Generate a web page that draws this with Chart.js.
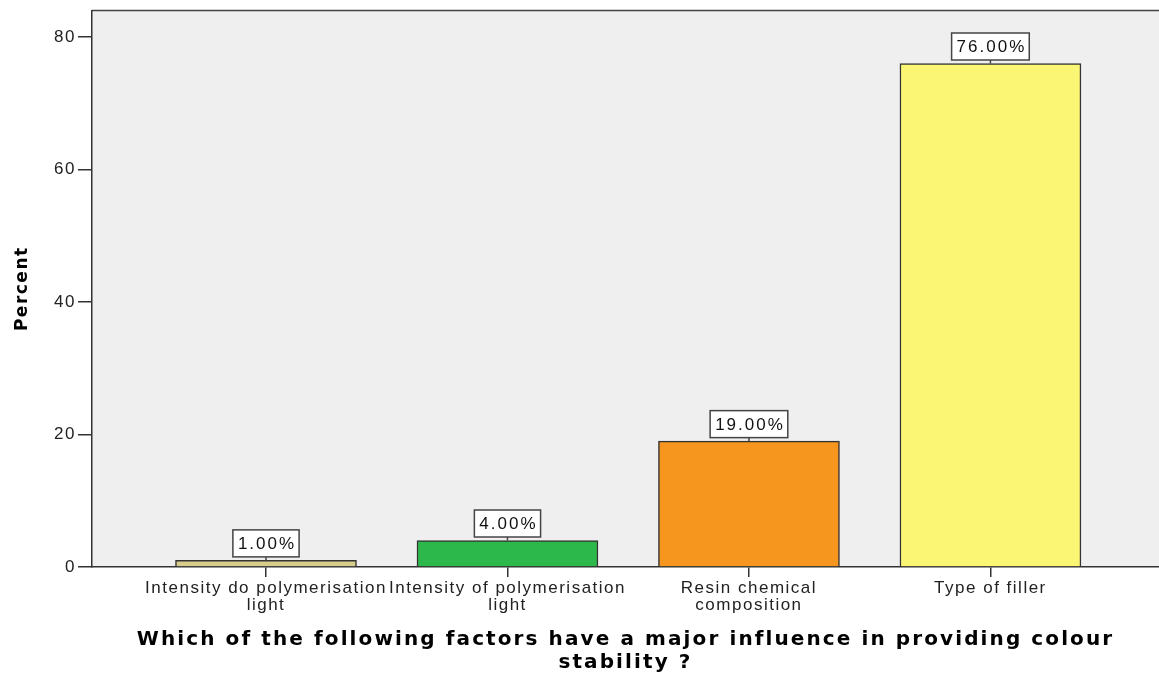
<!DOCTYPE html>
<html>
<head>
<meta charset="utf-8">
<script src="https://cdn.jsdelivr.net/npm/chart.js@4.4.1/dist/chart.umd.min.js"></script>
<style>
  html, body { margin: 0; padding: 0; background: #fff; overflow: hidden; }
  #wrap { width: 1159px; height: 677px; position: relative; }
</style>
</head>
<body>
<div id="wrap"><canvas id="c"></canvas></div>
<script>
// Survey answers: share of respondents per factor
const categories = [
  'Intensity do polymerisation light',
  'Intensity of polymerisation light',
  'Resin chemical composition',
  'Type of filler'
];
const categoryLines = [
  ['Intensity do polymerisation', 'light'],
  ['Intensity of polymerisation', 'light'],
  ['Resin chemical', 'composition'],
  ['Type of filler']
];
const percents = [1, 4, 19, 76];
const barColors = ['#d8cc8c', '#2db84b', '#f7961f', '#fbf774'];
const yTicks = [0, 20, 40, 60, 80];
const yTitle = 'Percent';
const xTitle = ['Which of the following factors have a major influence in providing colour', 'stability ?'];

const SANS = '"Liberation Sans", Arial, sans-serif';
const BOLD = '"DejaVu Sans", Verdana, sans-serif';

// Base letter spacing for tick text
const spacing = {
  id: 'spacing',
  beforeLayout(chart) { chart.ctx.letterSpacing = '1.5px'; },
  beforeDraw(chart) { chart.ctx.letterSpacing = '1.5px'; }
};

// Axis titles get their own letter spacing
function spacedTitle(sp) {
  return s => {
    if (s._spacedTitle) return;
    s._spacedTitle = true;
    const orig = s.drawTitle;
    s.drawTitle = function () {
      const c = this.ctx;
      const prev = c.letterSpacing;
      c.letterSpacing = sp;
      orig.call(this);
      c.letterSpacing = prev;
    };
  };
}

// Grey plot panel with a top frame line
const panel = {
  id: 'panel',
  beforeDraw(chart) {
    const { ctx, chartArea: a } = chart;
    ctx.save();
    ctx.fillStyle = '#efefef';
    ctx.fillRect(a.left, a.top, a.right - a.left, a.bottom - a.top);
    ctx.strokeStyle = '#444';
    ctx.lineWidth = 1.5;
    ctx.beginPath();
    ctx.moveTo(a.left, a.top);
    ctx.lineTo(a.right, a.top);
    ctx.stroke();
    ctx.restore();
  }
};

// Boxed percentage labels above each bar
const valueBoxes = {
  id: 'valueBoxes',
  afterDatasetsDraw(chart) {
    const ctx = chart.ctx;
    const meta = chart.getDatasetMeta(0);
    ctx.save();
    ctx.font = '17px ' + SANS;
    ctx.letterSpacing = '2px';
    meta.data.forEach((bar, i) => {
      const txt = percents[i].toFixed(2) + '%';
      const w = ctx.measureText(txt).width + 8;
      const h = 27;
      const bottom = bar.y - 3.5;
      const top = bottom - h;
      ctx.fillStyle = '#fff';
      ctx.fillRect(bar.x - w / 2, top, w, h);
      ctx.strokeStyle = '#444';
      ctx.lineWidth = 1.5;
      ctx.strokeRect(bar.x - w / 2, top, w, h);
      ctx.beginPath();
      ctx.moveTo(bar.x, bottom);
      ctx.lineTo(bar.x, bar.y);
      ctx.stroke();
      ctx.fillStyle = '#111';
      ctx.textAlign = 'center';
      ctx.textBaseline = 'middle';
      ctx.fillText(txt, bar.x + 1, (top + bottom) / 2 + 1);
    });
    ctx.restore();
  }
};

new Chart(document.getElementById('c'), {
  type: 'bar',
  data: {
    datasets: [{
      data: percents.map((v, i) => ({ x: i, y: v })),
      backgroundColor: barColors,
      borderColor: '#333',
      borderWidth: 1.5,
      borderSkipped: 'start',
      barThickness: 181
    }]
  },
  options: {
    responsive: true,
    maintainAspectRatio: false,
    animation: false,
    layout: { padding: { top: 9, left: 0, right: 0, bottom: 0 } },
    plugins: { legend: { display: false }, tooltip: { enabled: false } },
    scales: {
      x: {
        type: 'linear',
        offset: false,
        min: -0.7205,
        max: 3.698,
        afterBuildTicks: s => { s.ticks = categories.map((c, i) => ({ value: i })); },
        afterFit: s => { s.height = 110; },
        afterUpdate: spacedTitle('2.1px'),
        ticks: {
          callback: v => categoryLines[v],
          autoSkip: false,
          maxRotation: 0,
          minRotation: 0,
          color: '#222',
          padding: 3,
          font: { family: SANS, size: 17, lineHeight: 1.0 }
        },
        grid: { offset: false, drawOnChartArea: false, drawTicks: true, tickLength: 10, color: '#333', lineWidth: 1.5 },
        border: { display: true, color: '#333', width: 1.5 },
        title: {
          display: true,
          text: xTitle,
          color: '#000',
          font: { family: BOLD, weight: 'bold', size: 20, lineHeight: 23 / 20 },
          padding: { top: 0, bottom: 2.5 }
        }
      },
      y: {
        min: 0,
        max: 84,
        afterBuildTicks: s => { s.ticks = yTicks.map(v => ({ value: v })); },
        afterFit: s => { s.width = 92; },
        afterUpdate: spacedTitle('1.5px'),
        ticks: { color: '#222', padding: 2, font: { family: SANS, size: 17, lineHeight: 1 } },
        grid: { drawOnChartArea: false, drawTicks: true, tickLength: 14, color: '#333', lineWidth: 1.5 },
        border: { display: true, color: '#333', width: 1.5 },
        title: {
          display: true,
          text: yTitle,
          color: '#000',
          font: { family: BOLD, weight: 'bold', size: 17, lineHeight: 1.2 },
          padding: { top: 12, bottom: 0 }
        }
      }
    }
  },
  plugins: [spacing, panel, valueBoxes]
});
</script>
</body>
</html>
